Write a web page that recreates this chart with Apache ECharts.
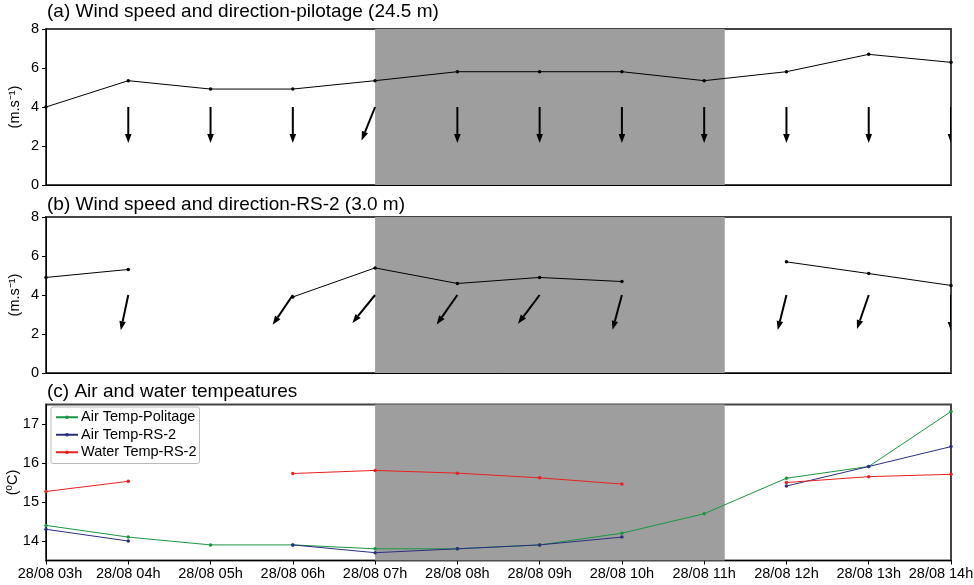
<!DOCTYPE html>
<html>
<head>
<meta charset="utf-8">
<script src="https://cdn.jsdelivr.net/npm/echarts@6/dist/echarts.min.js"></script>
<style>
html,body{margin:0;padding:0;background:#fff;}
#chart{width:974px;height:585px;}
</style>
</head>
<body>
<div id="chart"></div>
<script>
// ---- data ----
const hours = [3, 4, 5, 6, 7, 8, 9, 10, 11, 12, 13, 14];
const hourLabels = ['28/08 03h','28/08 04h','28/08 05h','28/08 06h','28/08 07h','28/08 08h',
                    '28/08 09h','28/08 10h','28/08 11h','28/08 12h','28/08 13h','28/08 14h'];
const shadeStart = 7;
const shadeEnd = 11.25;

// (a) pilotage 24.5 m
const speedPilotage = [4.00, 5.35, 4.92, 4.92, 5.35, 5.81, 5.81, 5.81, 5.35, 5.81, 6.70, 6.29];
const dirPilotage   = [null, 0, 0, 0, 22, 0, 0, 0, 0, 0, 0, 0];   // wind-from direction (deg)

// (b) RS-2 3.0 m
const speedRS2 = [4.90, 5.31, null, 3.90, 5.39, 4.59, 4.90, 4.69, null, 5.70, 5.10, 4.49];
const dirRS2   = [null, 12, null, 34, 39, 35, 37, 15, null, 14, 19, 0];

// (c) temperatures
const airPolitage = [14.40, 14.10, 13.90, 13.90, 13.80, 13.80, 13.90, 14.20, 14.70, 15.61, 15.91, 17.32];
const airRS2      = [14.30, 14.00, null, 13.90, 13.70, 13.80, 13.90, 14.10, null, 15.41, 15.91, 16.42];
const waterRS2    = [15.27, 15.53, null, 15.73, 15.81, 15.74, 15.62, 15.46, null, 15.50, 15.65, 15.71];

const arrowBase = 4; // y value where the direction arrows are anchored

// ---- helpers ----
const pair = arr => hours.map((h, i) => [h, arr[i]]);
const arrowData = arr => hours.map((h, i) => [h, arrowBase, arr[i]]).filter(d => d[2] !== null);

function arrowRender(params, api) {
  const p = api.coord([api.value(0), api.value(1)]);
  const d = api.value(2) * Math.PI / 180;
  const L = 36, hl = 9, hw = 3.3;
  const ux = -Math.sin(d), uy = Math.cos(d);
  const tip = [p[0] + ux * L, p[1] + uy * L];
  const bx = tip[0] - ux * hl, by = tip[1] - uy * hl;
  const nx = -uy, ny = ux;
  return {
    type: 'group',
    children: [
      { type: 'line', shape: { x1: p[0], y1: p[1], x2: bx, y2: by }, style: { stroke: '#000', lineWidth: 2 } },
      { type: 'polygon', shape: { points: [tip, [bx + nx * hw, by + ny * hw], [bx - nx * hw, by - ny * hw]] }, style: { fill: '#000' } }
    ]
  };
}

const FONT = '"Liberation Sans", Arial, sans-serif';
const TICK_FS = 14.5;
const gridBase = { left: 46, right: 23, height: 156, show: true, borderColor: '#444', borderWidth: 2,
                   backgroundColor: 'transparent', containLabel: false, outerBoundsMode: 'none' };

function xAxisDef(idx, showLabels) {
  return {
    type: 'value', gridIndex: idx, min: 3, max: 14, interval: 1,
    axisLine: { show: true, onZero: false, lineStyle: { color: '#000', width: 1 } },
    axisTick: { show: showLabels, length: 4, lineStyle: { color: '#000' } },
    splitLine: { show: false },
    axisLabel: {
      show: showLabels, color: '#000', fontFamily: FONT, fontSize: TICK_FS, margin: 6,
      formatter: v => {
        const i = hours.indexOf(v);
        if (i < 0) return '';
        if (i === 0) return '{first|' + hourLabels[i] + '}';
        if (i === hours.length - 1) return '{last|' + hourLabels[i] + '}';
        return hourLabels[i];
      },
      rich: {
        first: { fontFamily: FONT, fontSize: TICK_FS, color: '#000', padding: [0, 0, 0, 8] },
        last: { fontFamily: FONT, fontSize: TICK_FS, color: '#000', padding: [0, 20, 0, 0] }
      }
    }
  };
}

function yAxisDef(idx, min, max, interval, name, gap, custom) {
  const ax = {
    type: 'value', gridIndex: idx, min: min, max: max, interval: interval,
    name: name, nameLocation: 'middle', nameGap: gap, nameRotate: 90, nameMoveOverlap: false,
    nameTextStyle: { color: '#000', fontFamily: FONT, fontSize: 14.5 },
    axisLine: { show: true, onZero: false, lineStyle: { color: '#000', width: 1 } },
    axisTick: { show: true, length: 4, lineStyle: { color: '#000' } },
    splitLine: { show: false },
    axisLabel: { color: '#000', fontFamily: FONT, fontSize: TICK_FS, margin: 7 }
  };
  if (custom) {
    ax.axisLabel.customValues = custom;
    ax.axisTick.customValues = custom;
  }
  return ax;
}

const shade = {
  silent: true,
  itemStyle: { color: '#9e9e9e' },
  data: [[{ xAxis: shadeStart }, { xAxis: shadeEnd }]]
};

const titleStyle = { color: '#000', fontFamily: FONT, fontSize: 19, fontWeight: 'normal' };

const option = {
  animation: false,
  backgroundColor: '#fff',
  title: [
    { text: '(a) Wind speed and direction-pilotage (24.5 m)', left: 47, top: 2, padding: 0, textStyle: titleStyle },
    { text: '(b) Wind speed and direction-RS-2 (3.0 m)', left: 47, top: 195, padding: 0, textStyle: titleStyle },
    { text: '(c) Air and water tempeatures', left: 47, top: 382, padding: 0, textStyle: titleStyle }
  ],
  legend: {
    data: ['Air Temp-Politage', 'Air Temp-RS-2', 'Water Temp-RS-2'],
    orient: 'vertical', left: 51, top: 407,
    backgroundColor: '#fff', borderColor: '#bbb', borderWidth: 1, borderRadius: 2,
    padding: [2, 3, 3, 4], itemGap: 1, itemWidth: 22, itemHeight: 4.5,
    textStyle: { color: '#000', fontFamily: FONT, fontSize: 14.5, lineHeight: 16.5, padding: [0, 0, 0, -2] }
  },
  grid: [
    Object.assign({}, gridBase, { top: 29 }),
    Object.assign({}, gridBase, { top: 217 }),
    Object.assign({}, gridBase, { top: 404.5 })
  ],
  xAxis: [xAxisDef(0, false), xAxisDef(1, false), xAxisDef(2, true)],
  yAxis: [
    yAxisDef(0, 0, 8, 2, '(m.s\u207B\u00B9)', 24),
    yAxisDef(1, 0, 8, 2, '(m.s\u207B\u00B9)', 24),
    yAxisDef(2, 13.5, 17.5, 0.5, '(\u00BAC)', 25.5, [14, 15, 16, 17])
  ],
  series: [
    // shading
    { type: 'line', xAxisIndex: 0, yAxisIndex: 0, data: [], markArea: shade, z: 1 },
    { type: 'line', xAxisIndex: 1, yAxisIndex: 1, data: [], markArea: shade, z: 1 },
    { type: 'line', xAxisIndex: 2, yAxisIndex: 2, data: [], markArea: shade, z: 1 },
    // (a)
    { name: 'speedA', type: 'line', xAxisIndex: 0, yAxisIndex: 0, data: pair(speedPilotage),
      symbol: 'circle', symbolSize: 3.5, lineStyle: { color: '#000', width: 1 }, itemStyle: { color: '#000' }, z: 3 },
    { name: 'dirA', type: 'custom', xAxisIndex: 0, yAxisIndex: 0, data: arrowData(dirPilotage),
      encode: { x: 0, y: 1 }, renderItem: arrowRender, clip: true, z: 4 },
    // (b)
    { name: 'speedB', type: 'line', xAxisIndex: 1, yAxisIndex: 1, data: pair(speedRS2), connectNulls: false,
      symbol: 'circle', symbolSize: 3.5, lineStyle: { color: '#000', width: 1 }, itemStyle: { color: '#000' }, z: 3 },
    { name: 'dirB', type: 'custom', xAxisIndex: 1, yAxisIndex: 1, data: arrowData(dirRS2),
      encode: { x: 0, y: 1 }, renderItem: arrowRender, clip: true, z: 4 },
    // (c)
    { name: 'Air Temp-Politage', type: 'line', xAxisIndex: 2, yAxisIndex: 2, data: pair(airPolitage),
      symbol: 'circle', symbolSize: 3.5, lineStyle: { color: '#1a9641', width: 1 }, itemStyle: { color: '#1a9641' }, z: 3 },
    { name: 'Air Temp-RS-2', type: 'line', xAxisIndex: 2, yAxisIndex: 2, data: pair(airRS2), connectNulls: false,
      symbol: 'circle', symbolSize: 3.5, lineStyle: { color: '#2b2e80', width: 1 }, itemStyle: { color: '#2b2e80' }, z: 3 },
    { name: 'Water Temp-RS-2', type: 'line', xAxisIndex: 2, yAxisIndex: 2, data: pair(waterRS2), connectNulls: false,
      symbol: 'circle', symbolSize: 3.5, lineStyle: { color: '#e8211e', width: 1 }, itemStyle: { color: '#e8211e' }, z: 3 }
  ]
};

const chart = echarts.init(document.getElementById('chart'), null, { renderer: 'canvas' });
chart.setOption(option);
</script>
</body>
</html>
